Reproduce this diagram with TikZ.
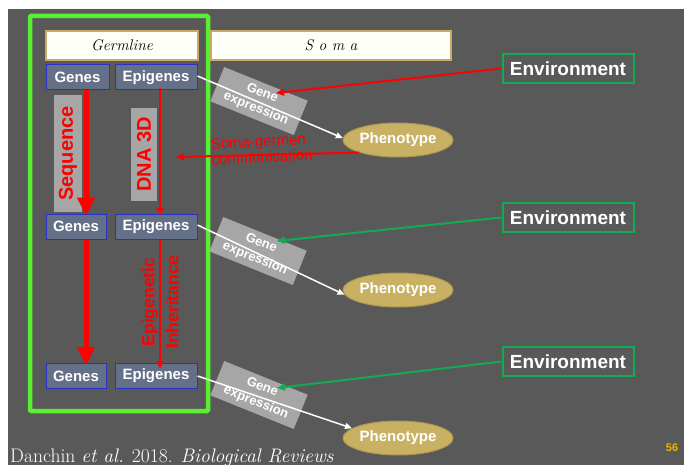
\documentclass[tikz,border=0pt]{standalone}
\usepackage{fontspec}
\newfontfamily\arial{Liberation Sans}
\usetikzlibrary{arrows.meta,calc,shapes.geometric}
\definecolor{bg}{RGB}{89,89,89}
\definecolor{slate}{RGB}{99,112,136}
\definecolor{boxblue}{RGB}{40,50,200}
\definecolor{frameg}{RGB}{90,240,50}
\definecolor{envg}{RGB}{20,170,80}
\definecolor{tanf}{RGB}{201,177,99}
\definecolor{tanb}{RGB}{176,152,80}
\definecolor{lgray}{RGB}{166,166,166}
\definecolor{cream}{RGB}{255,255,250}
\definecolor{creamb}{RGB}{200,170,100}
\definecolor{pgorange}{RGB}{240,180,0}
\begin{document}
\begin{tikzpicture}[x=1pt,y=-1pt,
  genebox/.style={draw=boxblue, line width=1pt, fill=slate, text=white, font=\arial\bfseries\fontsize{15}{18}\selectfont, minimum height=25pt, inner sep=0pt},
  headbox/.style={draw=creamb, line width=1.5pt, fill=cream, minimum height=29pt, inner sep=0pt, font=\itshape\fontsize{15.5}{18}\selectfont},
  envbox/.style={draw=envg, line width=2pt, minimum width=131pt, minimum height=29pt, text=white, font=\arial\bfseries\fontsize{19}{22}\selectfont, inner sep=0pt},
  pheno/.style={ellipse, draw=tanb, line width=1pt, fill=tanf, minimum width=110pt, minimum height=34pt, text=white, font=\arial\bfseries\fontsize{15}{18}\selectfont, inner sep=0pt},
  gexp/.style={fill=lgray, minimum width=90pt, minimum height=37pt, rotate=-22, text=white, font=\arial\bfseries\fontsize{13}{16.5}\selectfont, align=center, inner sep=0pt},
  redlabel/.style={rotate=90, text=red, font=\arial\bfseries\fontsize{20}{22}\selectfont, inner sep=0pt},
  thickarrow/.style={draw=red, line width=5pt, -{Triangle[width=17pt,length=18pt]}},
  thinarrow/.style={draw=red, line width=2pt, -{Triangle[width=7pt,length=8pt]}},
  whitearrow/.style={draw=white, line width=1.5pt, -{Triangle[width=6pt,length=7pt]}},
  greenarrow/.style={draw=envg, line width=2pt, -{Triangle[width=7pt,length=8pt]}}
]
\useasboundingbox (0,0) rectangle (684,465);
\fill[white] (0,0) rectangle (684,465);
\fill[bg] (8,9) rectangle (684,465);

% green frame
\draw[frameg, line width=4.5pt, rounded corners=1pt] (30,16) rectangle (208,411);

% headers
\node[headbox, minimum width=152pt] (germ) at (122,45.5) {Germline};
\node[headbox, minimum width=240pt] (soma) at (331,45.5) {S o m a};

% genes / epigenes
\node[genebox, minimum width=63pt] (g1) at (77.5,77.5) {Genes};
\node[genebox, minimum width=82pt] (e1) at (156,77.5) {Epigenes};
\node[genebox, minimum width=60pt] (g2) at (76,226.5) {Genes};
\node[genebox, minimum width=82pt] (e2) at (156,226.5) {Epigenes};
\node[genebox, minimum width=60pt] (g3) at (76,376) {Genes};
\node[genebox, minimum width=82pt] (e3) at (156,376) {Epigenes};

% vertical labels
\node[redlabel, fill=lgray, minimum width=117pt, minimum height=28pt] (seq) at (68,153.5) {Sequence};
\node[redlabel, fill=lgray, minimum width=93pt, minimum height=26pt] (dna) at (144,154.5) {DNA 3D};
\node[rotate=90, text=red, align=center, font=\arial\bfseries\fontsize{17.5}{24}\selectfont, inner sep=0pt] (epi) at (160,302) {Epigenetic\\Inheritance};

% vertical arrows
\draw[thickarrow] ([xshift=8.5pt]g1.south) -- ([xshift=10pt,yshift=-2pt]g2.north);
\draw[thickarrow] ([xshift=10pt]g2.south) -- ([xshift=10pt,yshift=-2pt]g3.north);
\draw[thinarrow] ([xshift=4pt,yshift=2pt]e1.south) -- ([xshift=4pt,yshift=-2pt]e2.north);
\draw[thinarrow] ([xshift=4pt]e2.south) -- ([xshift=4pt,yshift=-6pt]e3.north);

% gene expression boxes
\node[gexp] (ge1) at (259,101) {Gene\\expression};
\node[gexp] (ge2) at (258,251) {Gene\\expression};
\node[gexp] (ge3) at (259,395) {Gene\\expression};

% phenotypes
\node[pheno] (ph1) at (398,140) {Phenotype};
\node[pheno] (ph2) at (398,290) {Phenotype};
\node[pheno] (ph3) at (398,438) {Phenotype};

% environments
\node[envbox] (env1) at (568,68.5) {Environment};
\node[envbox] (env2) at (568,217.5) {Environment};
\node[envbox] (env3) at (568,361.5) {Environment};

% white arrows epigenes -> phenotype
\draw[whitearrow] ([yshift=1.5pt]e1.east) -- (ph1.178);
\draw[whitearrow] ([yshift=1.5pt]e2.east) -- (ph2.185);
\draw[whitearrow] ([yshift=0pt]e3.east) -- (ph3.168);

% environment arrows
\coordinate (t1) at (276,93);
\coordinate (t2) at (277,241);
\coordinate (t3) at (277,388);
\draw[thinarrow] (env1.west) -- (t1);
\draw[greenarrow] (env2.west) -- (t2);
\draw[greenarrow] (env3.west) -- (t3);

% soma-germen communication
\coordinate (sg) at (176,157);
\draw[thinarrow] (ph1.198) -- (sg);
\node[anchor=west, rotate=3, text=red, align=left, font=\arial\fontsize{15}{16}\selectfont, inner sep=0pt] (sgt) at (211,152) {Soma-germen\\communication};

% citation
\node[anchor=base west, text=white, font=\fontsize{19.6}{24}\selectfont, inner sep=0pt] (cite) at (10,462) {Danchin \textit{et al.} 2018. \textit{Biological Reviews}};
\node[text=pgorange, font=\arial\bfseries\fontsize{11}{13}\selectfont, inner sep=0pt] (pg) at (672,448) {56};
\end{tikzpicture}
\end{document}
